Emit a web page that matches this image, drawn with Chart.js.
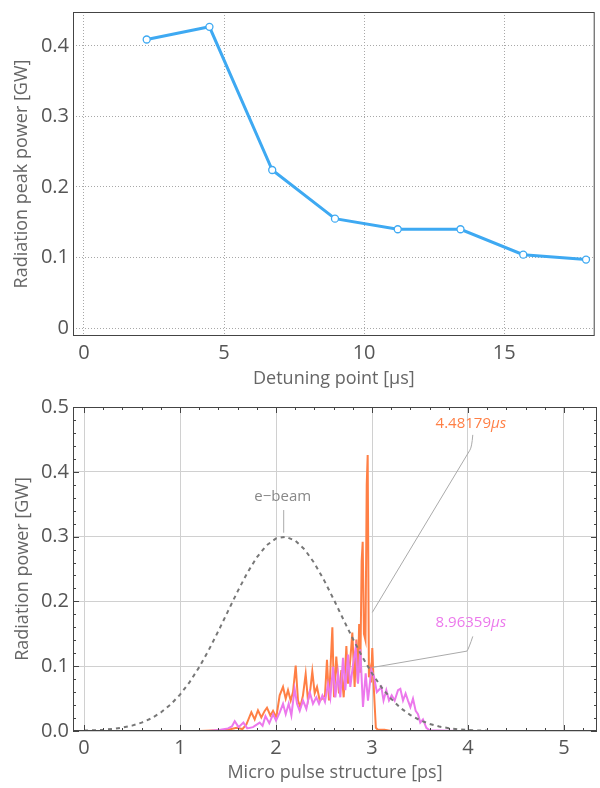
<!DOCTYPE html>
<html>
<head>
<meta charset="utf-8">
<script src="https://cdn.jsdelivr.net/npm/chart.js@4"></script>
<style>
  body { margin: 0; background: #fff; width: 600px; height: 788px; overflow: hidden; }
  .box { position: absolute; left: 0; width: 600px; }
</style>
</head>
<body>
<div class="box" style="top:0;height:390px"><canvas id="peak"></canvas></div>
<div class="box" style="top:390px;height:398px"><canvas id="pulse"></canvas></div>
<script>
// top panel: peak power vs detuning point
const detuningUs = [2.24, 4.48, 6.72, 8.96, 11.2, 13.44, 15.68, 17.92];
const peakPowerGW = [0.409, 0.427, 0.224, 0.155, 0.140, 0.140, 0.104, 0.097];
const peakXTicks = [0, 5, 10, 15];
const peakYTicks = [0, 0.1, 0.2, 0.3, 0.4];

// bottom panel: micro pulse structure, [ps, GW]
const eBeam = [
  [0, 0.0006], [0.1, 0.0011], [0.2, 0.0019], [0.3, 0.0032], [0.4, 0.0052], [0.5, 0.0083],
  [0.6, 0.0129], [0.7, 0.0194], [0.8, 0.0285], [0.9, 0.0406], [1.0, 0.0561], [1.1, 0.0755],
  [1.2, 0.0986], [1.3, 0.1252], [1.4, 0.1544], [1.5, 0.1850], [1.6, 0.2155], [1.7, 0.2438],
  [1.8, 0.2680], [1.9, 0.2864], [2.0, 0.2972], [2.1, 0.2998], [2.2, 0.2939], [2.3, 0.2798],
  [2.4, 0.2590], [2.5, 0.2328], [2.6, 0.2034], [2.7, 0.1727], [2.8, 0.1425], [2.9, 0.1142],
  [3.0, 0.0889], [3.1, 0.0673], [3.2, 0.0495], [3.3, 0.0353], [3.4, 0.0245], [3.5, 0.0166],
  [3.6, 0.0109], [3.7, 0.0069], [3.8, 0.0043], [3.9, 0.0026], [4.0, 0.0015], [4.1, 0.0009],
  [4.2, 0.0005]
];
const pulse448 = [
  [0, 0], [1.2, 0], [1.4, 0.001], [1.5, 0.002], [1.59, 0.005], [1.65, 0.003], [1.691, 0.010],
  [1.743, 0.029], [1.778, 0.018], [1.812, 0.032], [1.847, 0.021], [1.882, 0.031], [1.906, 0.036],
  [1.941, 0.024], [1.969, 0.031], [2.003, 0.021], [2.038, 0.055], [2.073, 0.068], [2.101, 0.050],
  [2.125, 0.063], [2.153, 0.047], [2.177, 0.060], [2.205, 0.101], [2.229, 0.047], [2.253, 0.037],
  [2.281, 0.055], [2.309, 0.088], [2.333, 0.047], [2.358, 0.065], [2.378, 0.092], [2.403, 0.058],
  [2.427, 0.068], [2.455, 0.047], [2.483, 0.050], [2.510, 0.055], [2.531, 0.110], [2.552, 0.047],
  [2.587, 0.160], [2.604, 0.052], [2.628, 0.115], [2.656, 0.058], [2.681, 0.094], [2.705, 0.052],
  [2.733, 0.131], [2.750, 0.073], [2.774, 0.110], [2.795, 0.152], [2.819, 0.068], [2.837, 0.141],
  [2.852, 0.075], [2.866, 0.165], [2.878, 0.090], [2.892, 0.262], [2.903, 0.292], [2.916, 0.150],
  [2.932, 0.140], [2.945, 0.380], [2.955, 0.426], [2.968, 0.083], [2.982, 0.094], [2.990, 0.075],
  [3.003, 0.128], [3.020, 0.063], [3.040, 0.005], [3.060, 0.002], [3.130, 0.002], [3.200, 0],
  [5.25, 0]
];
const pulse896 = [
  [0, 0], [1.3, 0], [1.42, 0.002], [1.50, 0.004], [1.54, 0.007], [1.57, 0.015], [1.61, 0.006],
  [1.66, 0.013], [1.70, 0.004], [1.76, 0.006], [1.83, 0.013], [1.86, 0.008], [1.89, 0.023],
  [1.93, 0.012], [1.97, 0.026], [2.00, 0.016], [2.04, 0.029], [2.073, 0.042], [2.101, 0.026],
  [2.132, 0.042], [2.160, 0.024], [2.194, 0.065], [2.219, 0.042], [2.247, 0.031], [2.281, 0.047],
  [2.316, 0.034], [2.351, 0.060], [2.385, 0.042], [2.420, 0.052], [2.448, 0.042], [2.483, 0.055],
  [2.510, 0.045], [2.542, 0.073], [2.566, 0.052], [2.594, 0.099], [2.618, 0.052], [2.646, 0.089],
  [2.670, 0.052], [2.698, 0.113], [2.722, 0.063], [2.750, 0.118], [2.774, 0.068], [2.802, 0.102],
  [2.830, 0.128], [2.854, 0.073], [2.878, 0.126], [2.906, 0.037], [2.934, 0.089], [2.958, 0.047],
  [2.993, 0.094], [3.021, 0.084], [3.050, 0.060], [3.075, 0.064], [3.097, 0.068], [3.120, 0.047],
  [3.149, 0.063], [3.177, 0.047], [3.205, 0.055], [3.236, 0.047], [3.271, 0.063], [3.295, 0.065],
  [3.323, 0.047], [3.350, 0.058], [3.375, 0.047], [3.400, 0.037], [3.427, 0.050], [3.455, 0.031],
  [3.479, 0.026], [3.503, 0.013], [3.531, 0.018], [3.566, 0.005], [3.600, 0.001], [3.900, 0],
  [5.25, 0]
];
const pulseXTicks = [0, 1, 2, 3, 4, 5];
const pulseYTicks = [0, 0.1, 0.2, 0.3, 0.4, 0.5];
const pulseXMinor = [0.2, 0.4, 0.6, 0.8, 1.2, 1.4, 1.6, 1.8, 2.2, 2.4, 2.6, 2.8, 3.2, 3.4, 3.6, 3.8, 4.2, 4.4, 4.6, 4.8, 5.2];
const pulseYMinor = [0.02, 0.04, 0.06, 0.08, 0.12, 0.14, 0.16, 0.18, 0.22, 0.24, 0.26, 0.28, 0.32, 0.34, 0.36, 0.38, 0.42, 0.44, 0.46, 0.48];

// callout labels (data coords) and leader lines
const calloutText = ['4.48179', '8.96359', 'e\u2212beam'];
const calloutUnit = ['\u03bcs', '\u03bcs', ''];
const calloutAt = [[4.03, 0.474], [4.03, 0.167], [2.07, 0.362]];
const calloutLeader = [
  [[4.05, 0.457], [4.04, 0.441], [3.003, 0.183]],
  [[4.05, 0.146], [4.01, 0.131], [3.003, 0.098]],
  [[2.08, 0.341], [2.08, 0.306]]
];

const ORANGE = '#ff7f45';
const VIOLET = '#ec78ec';
const FONT = '"Open Sans", sans-serif';

const toXY = arr => arr.map(p => ({ x: p[0], y: p[1] }));

// draws the frame box and inward ticks around the plot area
const framePlugin = {
  id: 'frame',
  afterDraw(chart, args, opts) {
    const { ctx, chartArea: a, scales } = chart;
    ctx.save();
    ctx.strokeStyle = '#444';
    ctx.lineWidth = 1;
    ctx.strokeRect(a.left + 0.5, a.top + 0.5, a.right - a.left - 1, a.bottom - a.top - 1);
    const xt = (vals, len) => vals.forEach(v => {
      const px = Math.round(scales.x.getPixelForValue(v)) + 0.5;
      ctx.beginPath();
      ctx.moveTo(px, a.bottom); ctx.lineTo(px, a.bottom - len);
      ctx.moveTo(px, a.top); ctx.lineTo(px, a.top + len);
      ctx.stroke();
    });
    const yt = (vals, len) => vals.forEach(v => {
      const py = Math.round(scales.y.getPixelForValue(v)) + 0.5;
      ctx.beginPath();
      ctx.moveTo(a.left, py); ctx.lineTo(a.left + len, py);
      ctx.moveTo(a.right, py); ctx.lineTo(a.right - len, py);
      ctx.stroke();
    });
    if (opts.xMajor) xt(opts.xMajor, 6);
    if (opts.xMinor) xt(opts.xMinor, 3);
    if (opts.yMajor) yt(opts.yMajor, 6);
    if (opts.yMinor) yt(opts.yMinor, 3);
    ctx.restore();
  }
};

// callout labels with leader lines for the bottom panel
const calloutPlugin = {
  id: 'callouts',
  afterDatasetsDraw(chart) {
    const { ctx, scales: { x, y } } = chart;
    const colors = [ORANGE, VIOLET, '#888'];
    ctx.save();
    ctx.strokeStyle = '#aaa';
    ctx.lineWidth = 1;
    calloutLeader.forEach(path => {
      const pts = path.map(p => [x.getPixelForValue(p[0]), y.getPixelForValue(p[1])]);
      ctx.beginPath();
      ctx.moveTo(pts[0][0], pts[0][1]);
      if (pts.length === 3) {
        ctx.quadraticCurveTo(pts[1][0], pts[1][1] + 2, pts[1][0] - 2, pts[1][1] + 5);
      }
      ctx.lineTo(pts[pts.length - 1][0], pts[pts.length - 1][1]);
      ctx.stroke();
    });
    ctx.textBaseline = 'middle';
    calloutText.forEach((t, i) => {
      const cx = x.getPixelForValue(calloutAt[i][0]);
      const cy = y.getPixelForValue(calloutAt[i][1]);
      ctx.font = '15px ' + FONT;
      const w1 = ctx.measureText(t).width;
      ctx.font = 'italic 15px ' + FONT;
      const w2 = ctx.measureText(calloutUnit[i]).width;
      const x0 = cx - (w1 + w2) / 2;
      ctx.fillStyle = colors[i];
      ctx.font = '15px ' + FONT;
      ctx.fillText(t, x0, cy);
      ctx.font = 'italic 15px ' + FONT;
      ctx.fillText(calloutUnit[i], x0 + w1, cy);
    });
    ctx.restore();
  }
};

const fixTicks = vals => s => { s.ticks = vals.map(v => ({ value: v })); };
const fitY = w => s => { s.width = w; s.paddingTop = 0; s.paddingBottom = 0; };
const fitX = h => s => { s.height = h; s.paddingLeft = 0; s.paddingRight = 0; };

Chart.defaults.font.family = FONT;

new Chart(document.getElementById('peak'), {
  type: 'line',
  data: {
    datasets: [{
      data: toXY(detuningUs.map((d, i) => [d, peakPowerGW[i]])),
      borderColor: '#3ea9f2',
      borderWidth: 3,
      pointRadius: 3.5,
      pointBorderWidth: 1.3,
      pointBackgroundColor: '#fff',
      pointBorderColor: '#3ea9f2',
      tension: 0
    }]
  },
  options: {
    responsive: true,
    maintainAspectRatio: false,
    animation: false,
    layout: { padding: { top: 12, right: 2, left: 0, bottom: 0 } },
    plugins: { legend: { display: false }, tooltip: { enabled: false }, frame: {} },
    scales: {
      x: {
        type: 'linear', min: -0.39, max: 18.23,
        afterBuildTicks: fixTicks(peakXTicks),
        afterFit: fitX(54),
        grid: { color: '#a8a8a8', drawTicks: false },
        border: { display: false, dash: [1, 2] },
        ticks: { color: '#555', font: { size: 20 }, padding: 5, callback: v => String(v) },
        title: { display: true, text: 'Detuning point [\u03bcs]', color: '#666', font: { size: 18 }, padding: { top: 0, bottom: 0 } }
      },
      y: {
        min: -0.0113, max: 0.448,
        afterBuildTicks: fixTicks(peakYTicks),
        afterFit: fitY(73),
        grid: { color: '#a8a8a8', drawTicks: false },
        border: { display: false, dash: [1, 2] },
        ticks: { color: '#555', font: { size: 20 }, padding: 4, callback: v => v === 0 ? '0' : v.toFixed(1) },
        title: { display: true, text: 'Radiation peak power [GW]', color: '#666', font: { size: 18 }, padding: { top: 11, bottom: 0 } }
      }
    }
  },
  plugins: [framePlugin]
});

new Chart(document.getElementById('pulse'), {
  type: 'line',
  data: {
    datasets: [{
      label: 'e-beam',
      data: toXY(eBeam),
      borderColor: '#777',
      borderWidth: 2,
      borderDash: [4, 4],
      pointRadius: 0,
      order: 0
    }, {
      label: '8.96359us',
      data: toXY(pulse896),
      borderColor: VIOLET,
      borderWidth: 2,
      pointRadius: 0,
      order: 1
    }, {
      label: '4.48179us',
      data: toXY(pulse448),
      borderColor: ORANGE,
      borderWidth: 2,
      pointRadius: 0,
      order: 2
    }]
  },
  options: {
    responsive: true,
    maintainAspectRatio: false,
    animation: false,
    layout: { padding: { top: 17, right: 3, left: 0, bottom: 0 } },
    plugins: {
      legend: { display: false }, tooltip: { enabled: false },
      frame: { xMajor: pulseXTicks, xMinor: pulseXMinor, yMajor: pulseYTicks, yMinor: pulseYMinor }
    },
    scales: {
      x: {
        type: 'linear', min: -0.115, max: 5.344,
        afterBuildTicks: fixTicks(pulseXTicks),
        afterFit: fitX(57),
        grid: { color: '#d0d0d0', drawTicks: false },
        border: { display: false },
        ticks: { color: '#555', font: { size: 20 }, padding: 5, callback: v => String(v) },
        title: { display: true, text: 'Micro pulse structure [ps]', color: '#666', font: { size: 18 }, padding: { top: 0, bottom: 4 } }
      },
      y: {
        min: 0, max: 0.5,
        afterBuildTicks: fixTicks(pulseYTicks),
        afterFit: fitY(73),
        grid: { color: '#d0d0d0', drawTicks: false },
        border: { display: false },
        ticks: { color: '#555', font: { size: 20 }, padding: 4, callback: v => v.toFixed(1) },
        title: { display: true, text: 'Radiation power [GW]', color: '#666', font: { size: 18 }, padding: { top: 12, bottom: 0 } }
      }
    }
  },
  plugins: [framePlugin, calloutPlugin]
});
</script>
</body>
</html>
